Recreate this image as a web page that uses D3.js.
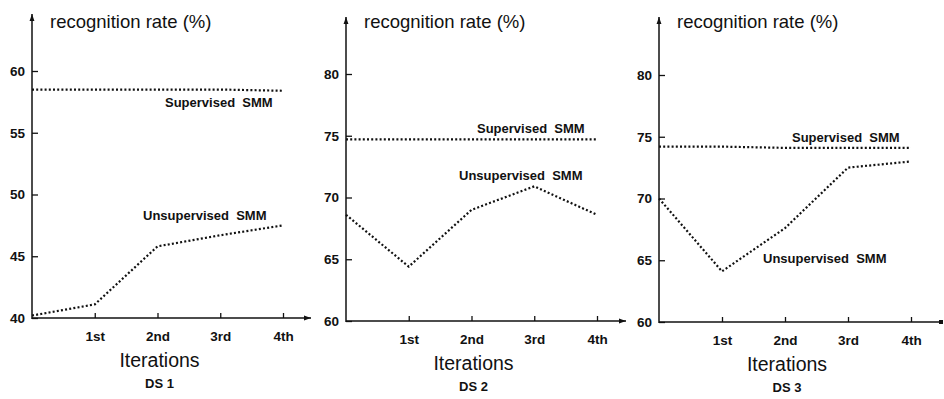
<!DOCTYPE html>
<html>
<head>
<meta charset="utf-8">
<script src="https://cdn.jsdelivr.net/npm/d3@7"></script>
<style>
    body { margin: 0; background: #fff; }
    text { font-family: "Liberation Sans", Arial, sans-serif; fill: #111; }
    .tick text { font-weight: bold; font-size: 13.5px; }
    .lbl { font-weight: bold; font-size: 13px; white-space: pre; }
    .ttl { font-size: 18.5px; }
    .xt { font-size: 19.5px; }
</style>
</head>
<body>
<svg id="chart" width="944" height="399"></svg>
<script>
// iteration index 0 = initial, 1..4 = iterations
const iterations = [0, 1, 2, 3, 4];
const iterLabels = ["1st", "2nd", "3rd", "4th"];
const panelNames = ["DS 1", "DS 2", "DS 3"];

const ds1Ticks = [40, 45, 50, 55, 60];
const ds2Ticks = [60, 65, 70, 75, 80];
const ds3Ticks = [60, 65, 70, 75, 80];

const ds1Supervised = [58.5, 58.5, 58.5, 58.5, 58.4];
const ds1Unsupervised = [40.2, 41.1, 45.8, 46.7, 47.5];
const ds2Supervised = [74.7, 74.7, 74.7, 74.7, 74.7];
const ds2Unsupervised = [68.6, 64.4, 69.0, 70.9, 68.6];
const ds3Supervised = [74.2, 74.2, 74.1, 74.1, 74.1];
const ds3Unsupervised = [70.0, 64.1, 67.6, 72.5, 73.0];

const supLabel = "Supervised  SMM";
const unsupLabel = "Unsupervised  SMM";

// layout of each panel (pixels)
const layout = [
    {x0: 32, x4: 283, yBot: 318, yTop: 71, axisEnd: 311, axisTop: 14, end: "arrow",
        sup: [165, 102], unsup: [143, 215]},
    {x0: 346, x4: 597, yBot: 321, yTop: 74, axisEnd: 626, axisTop: 17, end: "arrow",
        sup: [477, 128], unsup: [459, 175]},
    {x0: 659, x4: 911, yBot: 322, yTop: 75, axisEnd: 943, axisTop: 17, end: "dot",
        sup: [792, 137], unsup: [763, 258]}
];

const panels = [
    {name: panelNames[0], ticks: ds1Ticks, sup: ds1Supervised, unsup: ds1Unsupervised},
    {name: panelNames[1], ticks: ds2Ticks, sup: ds2Supervised, unsup: ds2Unsupervised},
    {name: panelNames[2], ticks: ds3Ticks, sup: ds3Supervised, unsup: ds3Unsupervised}
];

const svg = d3.select("#chart");

const defs = svg.append("defs");
defs.append("marker")
    .attr("id", "arrow")
    .attr("viewBox", "0 0 10 10")
    .attr("refX", 10).attr("refY", 5)
    .attr("markerWidth", 10).attr("markerHeight", 7)
    .attr("markerUnits", "userSpaceOnUse")
    .attr("orient", "auto")
    .append("path")
    .attr("d", "M0,1.5L10,5L0,8.5Z")
    .attr("fill", "#111");

panels.forEach(function (p, i) {
    const L = layout[i];
    const g = svg.append("g");

    const x = d3.scaleLinear().domain([0, 4]).range([L.x0, L.x4]);
    const y = d3.scaleLinear()
        .domain([p.ticks[0], p.ticks[p.ticks.length - 1]])
        .range([L.yBot, L.yTop]);

    // y axis
    const ya = g.append("g")
        .attr("transform", "translate(" + L.x0 + ",0)")
        .call(d3.axisLeft(y).tickValues(p.ticks).tickSize(-6).tickPadding(7));
    ya.select(".domain").remove();
    ya.selectAll(".tick line").attr("stroke", "#111").attr("stroke-width", 1.3);

    // x axis
    const xa = g.append("g")
        .attr("transform", "translate(0," + L.yBot + ")")
        .call(d3.axisBottom(x).tickValues([1, 2, 3, 4])
            .tickFormat(function (d) { return iterLabels[d - 1]; })
            .tickSize(-5).tickPadding(13));
    xa.select(".domain").remove();
    xa.selectAll(".tick line").attr("stroke", "#111").attr("stroke-width", 1.3);

    // axis lines
    g.append("line")
        .attr("x1", L.x0).attr("y1", L.yBot + 1)
        .attr("x2", L.x0).attr("y2", L.axisTop)
        .attr("stroke", "#111").attr("stroke-width", 1.5)
        .attr("marker-end", "url(#arrow)");

    const xl = g.append("line")
        .attr("x1", L.x0).attr("y1", L.yBot)
        .attr("x2", L.axisEnd).attr("y2", L.yBot)
        .attr("stroke", "#111").attr("stroke-width", 1.5);
    if (L.end === "arrow") {
        xl.attr("marker-end", "url(#arrow)");
    } else {
        g.append("rect")
            .attr("x", L.axisEnd - 4).attr("y", L.yBot - 2)
            .attr("width", 4).attr("height", 4)
            .attr("fill", "#111");
    }

    // axis titles
    g.append("text")
        .attr("class", "ttl")
        .attr("x", L.x0 + 18).attr("y", 28)
        .text("recognition rate (%)");

    g.append("text")
        .attr("class", "xt")
        .attr("text-anchor", "middle")
        .attr("x", x(2) + 2).attr("y", L.yBot + 49)
        .text("Iterations");

    g.append("text")
        .attr("class", "lbl")
        .attr("text-anchor", "middle")
        .attr("x", x(2) + 2).attr("y", L.yBot + 70)
        .text(p.name);

    // dotted series
    const line = d3.line()
        .x(function (d, j) { return x(iterations[j]); })
        .y(function (d) { return y(d); });

    [p.sup, p.unsup].forEach(function (s) {
        g.append("path")
            .datum(s)
            .attr("d", line)
            .attr("fill", "none")
            .attr("stroke", "#111")
            .attr("stroke-width", 2.2)
            .attr("stroke-dasharray", "2,2.2");
    });

    g.append("text")
        .attr("class", "lbl")
        .attr("x", L.sup[0]).attr("y", L.sup[1] + 5)
        .text(supLabel);
    g.append("text")
        .attr("class", "lbl")
        .attr("x", L.unsup[0]).attr("y", L.unsup[1] + 5)
        .text(unsupLabel);
});
</script>
</body>
</html>
